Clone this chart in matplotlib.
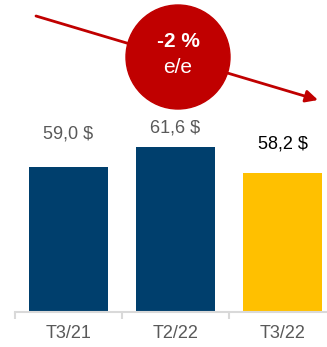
import matplotlib.pyplot as plt
from matplotlib.patches import Circle, FancyArrowPatch

plt.rcParams['font.family'] = ['Liberation Sans', 'DejaVu Sans']

# Données
periodes = ['T3/21', 'T2/22', 'T3/22']
valeurs = [59.0, 61.6, 58.2]
etiquettes = ['59,0 $', '61,6 $', '58,2 $']
variation = '-2 %'
variation_sous = 'e/e'

couleurs = ['#003F6D', '#003F6D', '#FFC000']
couleurs_txt = ['#595959', '#595959', '#000000']
decalages = [24, 14, 21]  # décalage vertical des étiquettes (points)

W, H = 327, 347
fig = plt.figure(figsize=(W / 100, H / 100), dpi=100)

# Axe principal (barres)
ax = fig.add_axes([15 / W, 35 / H, (W - 15) / W, 212 / H])
x = range(len(periodes))
ax.bar(x, valeurs, width=0.74, color=couleurs, zorder=2)
ax.set_xlim(-0.5, -0.5 + (W - 15) / 107)
ax.set_ylim(40, 40 + 212 / 7.63)

for i, v in enumerate(valeurs):
    ax.annotate(etiquettes[i], (i, v), xytext=(0, decalages[i]), textcoords='offset points',
                ha='center', va='center', fontsize=13, color=couleurs_txt[i])

ax.set_xticks(list(x))
ax.set_xticklabels(periodes, fontsize=13, color='#595959')
ax.tick_params(axis='x', which='major', length=0, pad=9)
ax.set_xticks([-0.5, 0.5, 1.5], minor=True)
ax.tick_params(axis='x', which='minor', length=5, width=1.5, color='#D9D9D9')
ax.set_yticks([])
for s in ['top', 'right', 'left']:
    ax.spines[s].set_visible(False)
ax.spines['bottom'].set_color('#D9D9D9')
ax.spines['bottom'].set_linewidth(1.5)

# Calque pour la flèche et le cercle
ov = fig.add_axes([0, 0, 1, 1])
ov.set_xlim(0, W)
ov.set_ylim(H, 0)
ov.axis('off')
ov.patch.set_alpha(0)

fleche = FancyArrowPatch((36, 16), (318, 100), arrowstyle='-|>', mutation_scale=18,
                         color='#C00000', lw=2, shrinkA=0, shrinkB=0)
ov.add_patch(fleche)
ov.add_patch(Circle((178, 57), 52, color='#C00000', zorder=3))
ov.text(178, 41, variation, ha='center', va='center', fontsize=15,
        fontweight='bold', color='white', zorder=4)
ov.text(178, 67, variation_sous, ha='center', va='center', fontsize=15,
        color='white', zorder=4)

fig.savefig('out.png', dpi=100)
